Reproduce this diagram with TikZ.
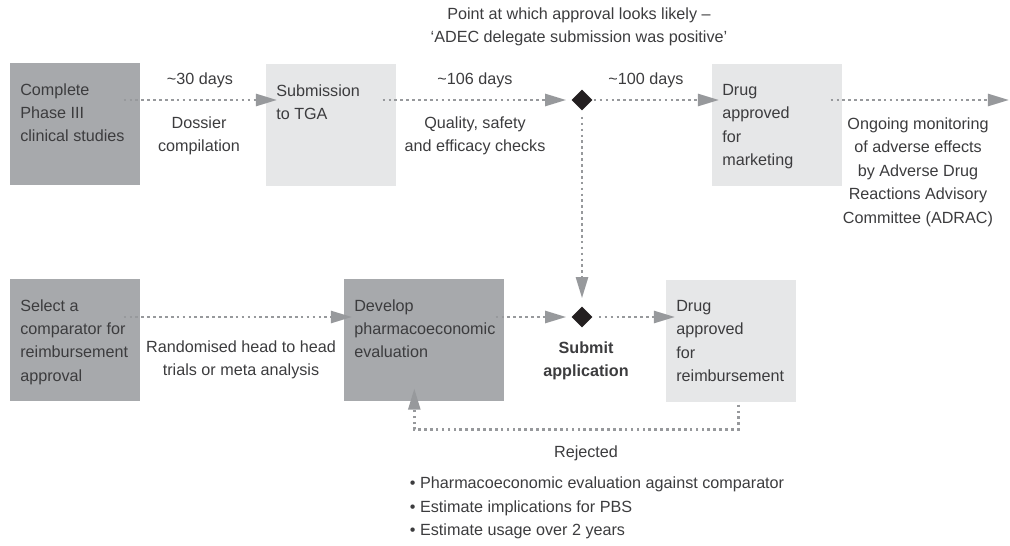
\documentclass[tikz,border=0pt]{standalone}
\usepackage{fontspec}
\setmainfont{Liberation Sans}
\usepackage{tikz}
\usetikzlibrary{calc,arrows.meta,shapes.geometric}

\definecolor{boxdark}{HTML}{A7A9AC}
\definecolor{boxlight}{HTML}{E6E7E8}
\definecolor{linegray}{HTML}{97999C}
\definecolor{txtgray}{HTML}{3C3C3E}
\definecolor{markblack}{HTML}{231F20}

\newcommand{\boxfont}{\fontsize{11.5}{16.7}\selectfont}
\newcommand{\boxlines}[2]{\parbox[t][2.05cm][t]{#1}{#2}}

\tikzset{
	stage/.style={anchor=north west, inner xsep=0.25cm, inner ysep=0.5cm, font=\boxfont, text=txtgray},
	darkbox/.style={stage, fill=boxdark},
	lightbox/.style={stage, fill=boxlight},
	milestone/.style={diamond, fill=markblack, minimum size=0.525cm, inner sep=0pt},
	flow/.style={draw=linegray, line width=1.9pt, dash pattern=on 1.9pt off 2.3pt,
		-{Triangle[length=15pt, width=8.5pt, fill=linegray]}},
	note/.style={font=\boxfont, text=txtgray, align=center},
}

\begin{document}
\begin{tikzpicture}[x=0.025cm, y=-0.025cm]
		%%%%% START %%%%%
		\useasboundingbox (0, 0) rectangle (1010, 545);
		
		% registration row
		\node[darkbox] (phase3) at (10, 63) {\boxlines{2.75cm}{Complete\\Phase III\\clinical studies}};
		\node[lightbox] (tga) at (266, 64) {\boxlines{2.75cm}{Submission\\to TGA}};
		\node[milestone] (adec) at (582, 100) {};
		\node[lightbox] (marketing) at (712, 64) {\boxlines{2.75cm}{Drug\\approved\\for\\marketing}};
		\coordinate (monitor) at (1009, 100);
		
		% reimbursement row
		\node[darkbox] (comparator) at (10, 279) {\boxlines{2.75cm}{Select a\\comparator for\\reimbursement\\approval}};
		\node[darkbox] (pharmaco) at (344, 279) {\boxlines{3.5cm}{Develop\\pharmacoeconomic\\evaluation}};
		\node[milestone] (submit) at (582, 317) {};
		\node[lightbox] (reimburse) at (666, 280) {\boxlines{2.75cm}{Drug\\approved\\for\\reimbursement}};
		
		% connectors
		\draw[flow] ($(phase3.east |- adec)+(-17, 0)$) -- ($(tga.west |- adec)+(11, 0)$);
		\draw[flow] ($(tga.east |- adec)+(-14, 0)$) -- ($(adec.west)+(-5, 0)$);
		\draw[flow] ($(adec.east)+(1, 0)$) -- ($(marketing.west |- adec)+(7, 0)$);
		\draw[flow] ($(marketing.east |- adec)+(-12, 0)$) -- (monitor);
		\draw[flow] ($(adec.south)+(0, 6)$) -- ($(submit.north)+(0, -8)$);
		
		\draw[flow] ($(comparator.east |- submit)+(-17, 0)$) -- ($(pharmaco.west |- submit)+(8, 0)$);
		\draw[flow] ($(pharmaco.east |- submit)+(-9, 0)$) -- ($(submit.west)+(-5, 0)$);
		\draw[flow] ($(submit.east)+(6, 0)$) -- ($(reimburse.west |- submit)+(9, 0)$);
		\draw[flow] ($(reimburse.south)+(7, 2)$) |- ($(pharmaco.south)+(-10, 28)$) -- ($(pharmaco.south)+(-10, -13)$);
		
		% labels
		\node[note] (likely) at (579, 27) {Point at which approval looks likely –\\‘ADEC delegate submission was positive’};
		\node[note] (days30) at (200, 80) {\textasciitilde30 days};
		\node[note] (dossier) at (199, 136) {Dossier\\compilation};
		\node[note] (days106) at (475, 80) {\textasciitilde106 days};
		\node[note] (checks) at (475, 136) {Quality, safety\\and efficacy checks};
		\node[note] (days100) at (646, 80) {\textasciitilde100 days};
		\node[note] (adrac) at (918, 172) {Ongoing monitoring\\of adverse effects\\by Adverse Drug\\Reactions Advisory\\Committee (ADRAC)};
		\node[note] (trials) at (241, 360) {Randomised head to head\\trials or meta analysis};
		\node[note, font=\boxfont\bfseries] (application) at (586, 361) {Submit\\application};
		\node[note] (rejected) at (586, 453) {Rejected};
		\node[note, align=left, anchor=west] (rejectlist) at (405, 508) {\textbullet\ Pharmacoeconomic evaluation against comparator\\\textbullet\ Estimate implications for PBS\\\textbullet\ Estimate usage over 2 years};
		
		%%%%% END %%%%%
	\end{tikzpicture}
\end{document}
